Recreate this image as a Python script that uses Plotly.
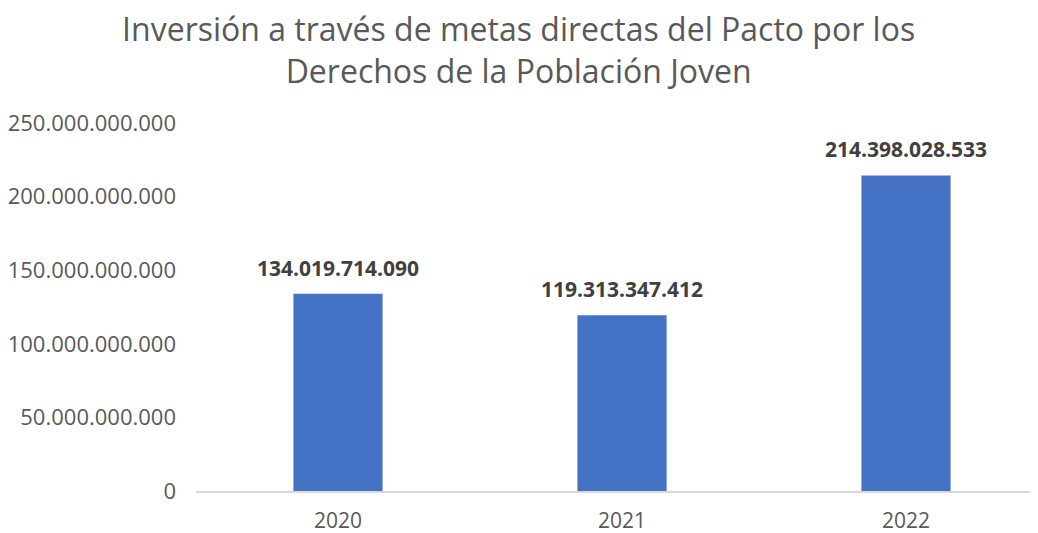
import plotly.graph_objects as go

# values
years = ["2020", "2021", "2022"]
inversion = [134019714090, 119313347412, 214398028533]

FONT = "Open Sans, Calibri, sans-serif"
GREY = "#595959"

fig = go.Figure(
    go.Bar(
        x=years,
        y=inversion,
        marker={"color": "#4472C4", "line": {"width": 0}},
        hoverinfo="skip",
    )
)

# bold data labels above each bar (x given as category index, since
# numeric-looking strings in annotations are read as numbers)
for i, value in enumerate(inversion):
    fig.add_annotation(
        x=i,
        y=value,
        text=f"<b>{value:,}</b>".replace(",", "."),
        showarrow=False,
        yanchor="bottom",
        yshift=10,
        font={"family": FONT, "size": 21, "color": "#404040"},
    )

fig.update_layout(
    width=1040,
    height=533,
    separators=",.",
    autotypenumbers="strict",
    paper_bgcolor="white",
    plot_bgcolor="white",
    margin={"l": 188, "r": 0, "t": 115, "b": 50},
    title={
        "text": "Inversión a través de metas directas del Pacto por los<br>Derechos de la Población Joven",
        "x": 0.491,
        "xanchor": "center",
        "y": 0.938,
        "yanchor": "middle",
        "font": {"family": FONT, "size": 32, "color": GREY},
    },
    bargap=0.686,
    showlegend=False,
)
fig.update_xaxes(
    type="category",
    categoryorder="array",
    categoryarray=years,
    range=[-0.5, 2.5],
    automargin=False,
    showline=True,
    linecolor="#D9D9D9",
    linewidth=1.5,
    showgrid=False,
    ticks="",
    ticklabelstandoff=10,
    tickfont={"family": FONT, "size": 21, "color": GREY},
)
fig.update_yaxes(
    range=[0, 250e9],
    dtick=50e9,
    tickformat=",d",
    automargin=False,
    showgrid=False,
    zeroline=False,
    showline=False,
    ticks="",
    ticklabelstandoff=19,
    tickfont={"family": FONT, "size": 22, "color": GREY},
)

fig.write_html("out.html")
